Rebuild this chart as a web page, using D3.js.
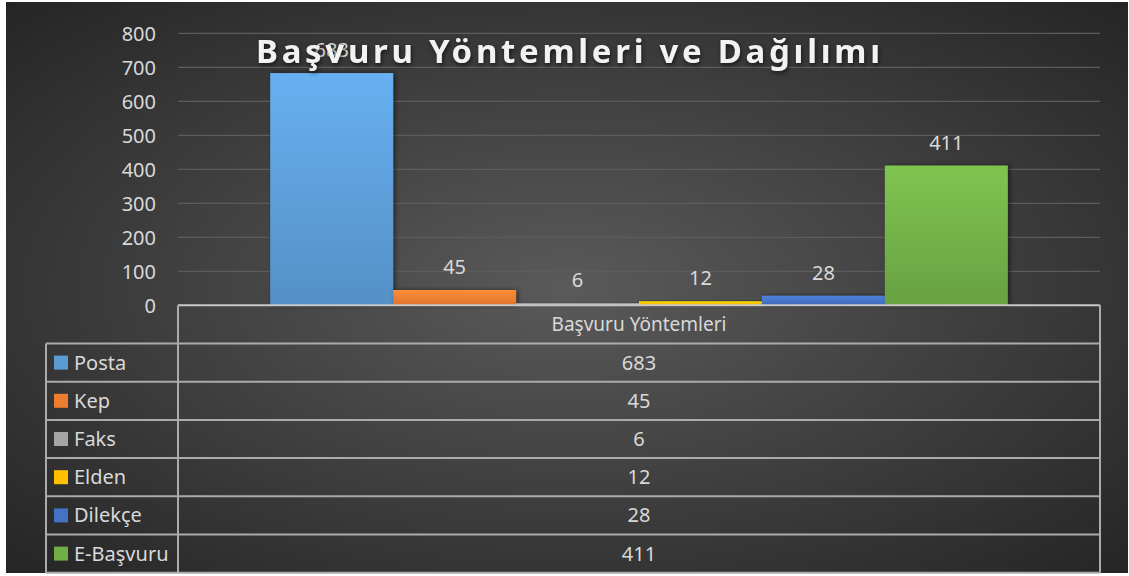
<!DOCTYPE html>
<html>
<head>
<meta charset="utf-8">
<script src="https://cdn.jsdelivr.net/npm/d3@7"></script>
<style>
  body { margin: 0; background: #ffffff; }
  svg text { font-family: "Noto Sans", "Open Sans", sans-serif; }
</style>
</head>
<body>
<svg id="chart" width="1129" height="576"></svg>
<script>
// data
var category = "Başvuru Yöntemleri";
var methods = ["Posta", "Kep", "Faks", "Elden", "Dilekçe", "E-Başvuru"];
var counts = [683, 45, 6, 12, 28, 411];
var yTicks = [0, 100, 200, 300, 400, 500, 600, 700, 800];
var colors = ["#5b9bd5", "#ed7d31", "#a5a5a5", "#ffc000", "#4472c4", "#70ad47"];
var title = "Başvuru Yöntemleri ve Dağılımı";

var svg = d3.select("#chart");
var defs = svg.append("defs");

// background
var bg = defs.append("radialGradient")
    .attr("id", "bg")
    .attr("cx", "50%").attr("cy", "50%").attr("r", "72%");
bg.append("stop").attr("offset", "0%").attr("stop-color", "#5a5a5a");
bg.append("stop").attr("offset", "100%").attr("stop-color", "#242424");

svg.append("rect")
    .attr("x", 6).attr("y", 2)
    .attr("width", 1122).attr("height", 571)
    .attr("fill", "url(#bg)");

colors.forEach(function(c, i) {
  var g = defs.append("linearGradient")
      .attr("id", "bar" + i)
      .attr("x1", 0).attr("y1", 0).attr("x2", 0).attr("y2", 1);
  g.append("stop").attr("offset", "0%").attr("stop-color", d3.color(c).brighter(0.35));
  g.append("stop").attr("offset", "100%").attr("stop-color", d3.color(c).darker(0.2));
});

var shadow = defs.append("filter").attr("id", "shadow")
    .attr("x", "-20%").attr("y", "-20%").attr("width", "150%").attr("height", "140%");
shadow.append("feDropShadow")
    .attr("dx", 2).attr("dy", 0).attr("stdDeviation", 2.5)
    .attr("flood-color", "#000").attr("flood-opacity", 0.5);

var plotLeft = 178, plotRight = 1100, plotTop = 33.3, plotBottom = 305.3;

var y = d3.scaleLinear().domain([0, 800]).range([plotBottom, plotTop]);
var x0 = d3.scaleBand().domain([category]).range([plotLeft, plotRight]);
var x1 = d3.scaleBand().domain(methods).range([0, x0.bandwidth()]).paddingOuter(0.75);

// grid lines
svg.append("g")
    .selectAll("line")
    .data(yTicks.slice(1))
    .enter().append("line")
    .attr("x1", plotLeft).attr("x2", plotRight)
    .attr("y1", function(d) { return y(d); })
    .attr("y2", function(d) { return y(d); })
    .attr("stroke", "#5c5c5c")
    .attr("stroke-width", 1.3);

// y axis labels
var yAxis = d3.axisLeft(y).tickValues(yTicks).tickSize(0).tickPadding(22);
var ya = svg.append("g")
    .attr("transform", "translate(" + plotLeft + ",0)")
    .call(yAxis);
ya.select(".domain").remove();
ya.selectAll("text")
    .attr("fill", "#d9d9d9")
    .attr("font-size", 20)
    .attr("font-family", "Noto Sans")
    .attr("dy", "0.35em");

// bars
var bars = svg.append("g").attr("transform", "translate(" + x0(category) + ",0)");
bars.selectAll("rect")
    .data(counts)
    .enter().append("rect")
    .attr("x", function(d, i) { return x1(methods[i]); })
    .attr("width", x1.bandwidth())
    .attr("y", function(d) { return y(d); })
    .attr("height", function(d) { return y(0) - y(d); })
    .attr("fill", function(d, i) { return "url(#bar" + i + ")"; })
    .attr("filter", "url(#shadow)");

bars.selectAll("text")
    .data(counts)
    .enter().append("text")
    .attr("x", function(d, i) { return x1(methods[i]) + x1.bandwidth() / 2; })
    .attr("y", function(d) { return y(d) - 16; })
    .attr("text-anchor", "middle")
    .attr("fill", "#d9d9d9")
    .attr("font-size", 20)
    .text(function(d) { return d; });

// title
svg.append("text")
    .attr("x", 568)
    .attr("y", 63)
    .attr("text-anchor", "middle")
    .attr("fill", "#f2f2f2")
    .attr("font-size", 33)
    .attr("font-weight", "bold")
    .attr("textLength", 624)
    .attr("lengthAdjust", "spacing")
    .style("filter", "drop-shadow(1px 2px 2px rgba(0,0,0,0.6))")
    .text(title);

// data table
var tableLeft = 46, rowH = 38.2;
var line = "#ababab";
var table = svg.append("g");

var rowY = d3.range(methods.length + 2).map(function(i) { return plotBottom + i * rowH; });

table.append("line")
    .attr("x1", plotLeft).attr("x2", plotRight)
    .attr("y1", plotBottom).attr("y2", plotBottom)
    .attr("stroke", "#c8c8c8").attr("stroke-width", 2);
table.append("line")
    .attr("x1", plotLeft).attr("x2", plotLeft)
    .attr("y1", plotBottom).attr("y2", rowY[rowY.length - 1])
    .attr("stroke", line).attr("stroke-width", 2);
table.append("line")
    .attr("x1", plotRight).attr("x2", plotRight)
    .attr("y1", plotBottom).attr("y2", rowY[rowY.length - 1])
    .attr("stroke", line).attr("stroke-width", 2);
table.append("line")
    .attr("x1", tableLeft).attr("x2", tableLeft)
    .attr("y1", rowY[1]).attr("y2", rowY[rowY.length - 1])
    .attr("stroke", line).attr("stroke-width", 2);
table.selectAll(".hline")
    .data(rowY.slice(1))
    .enter().append("line")
    .attr("class", "hline")
    .attr("x1", tableLeft).attr("x2", plotRight)
    .attr("y1", function(d) { return d; })
    .attr("y2", function(d) { return d; })
    .attr("stroke", line).attr("stroke-width", 2);

table.append("text")
    .attr("x", (plotLeft + plotRight) / 2)
    .attr("y", plotBottom + rowH / 2)
    .attr("dy", "0.35em")
    .attr("text-anchor", "middle")
    .attr("fill", "#d9d9d9")
    .attr("font-size", 19)
    .text(category);

var rows = table.selectAll(".row")
    .data(methods)
    .enter().append("g")
    .attr("class", "row")
    .attr("transform", function(d, i) { return "translate(0," + (rowY[i + 1] + rowH / 2) + ")"; });

rows.append("rect")
    .attr("x", 54).attr("y", -7)
    .attr("width", 14).attr("height", 14)
    .attr("fill", function(d, i) { return colors[i]; });

rows.append("text")
    .attr("x", 74)
    .attr("dy", "0.35em")
    .attr("fill", "#d9d9d9")
    .attr("font-size", 20)
    .text(function(d) { return d; });

rows.append("text")
    .attr("x", (plotLeft + plotRight) / 2)
    .attr("dy", "0.35em")
    .attr("text-anchor", "middle")
    .attr("fill", "#d9d9d9")
    .attr("font-size", 20)
    .text(function(d, i) { return counts[i]; });
</script>
</body>
</html>
